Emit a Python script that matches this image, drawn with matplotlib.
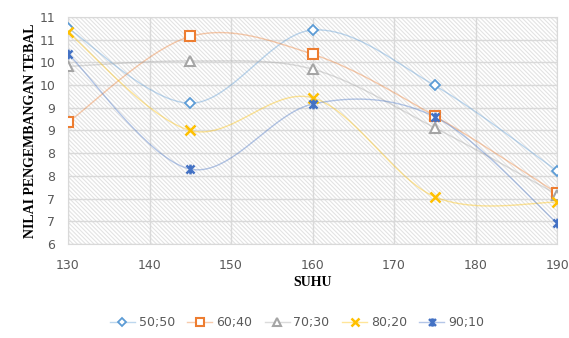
import matplotlib
matplotlib.use("Agg")
import matplotlib.pyplot as plt
import numpy as np
from matplotlib.patches import Rectangle
from matplotlib.path import Path
from matplotlib.ticker import FuncFormatter, MultipleLocator

# data
suhu = [130, 145, 160, 175, 190]
s50_50 = [10.75, 9.10, 10.71, 9.49, 7.61]
s60_40 = [8.68, 10.57, 10.18, 8.82, 7.12]
s70_30 = [9.91, 10.03, 9.85, 8.56, 7.09]
s80_20 = [10.66, 8.50, 9.22, 7.04, 6.92]
s90_10 = [10.19, 7.65, 9.08, 8.80, 6.46]
labels = ["50;50", "60;40", "70;30", "80;20", "90;10"]

# excel-ish asterisk marker
star = Path([(-1, -1), (1, 1), (-1, 1), (1, -1), (0, -1.2), (0, 1.2)],
            [Path.MOVETO, Path.LINETO, Path.MOVETO, Path.LINETO, Path.MOVETO, Path.LINETO])

styles = [
    dict(color="#5B9BD5", marker="D", ms=5, mfc="white", mew=1.3),
    dict(color="#ED7D31", marker="s", ms=7, mfc="white", mew=1.5),
    dict(color="#A5A5A5", marker="^", ms=7, mfc="white", mew=1.5),
    dict(color="#FFC000", marker="x", ms=7, mfc="none", mew=1.8),
    dict(color="#4472C4", marker=star, ms=7, mfc="none", mew=1.8),
]


def smooth(x, y, n=40):
    # bezier smoothing like excel's "smoothed line"
    x = np.asarray(x, float)
    y = np.asarray(y, float)
    px = np.concatenate([[x[0]], x, [x[-1]]])
    py = np.concatenate([[y[0]], y, [y[-1]]])
    t = np.linspace(0, 1, n)
    xs, ys = [], []
    for i in range(1, len(px) - 2):
        p0 = np.array([px[i], py[i]])
        p3 = np.array([px[i + 1], py[i + 1]])
        c1 = p0 + (np.array([px[i + 1], py[i + 1]]) - np.array([px[i - 1], py[i - 1]])) / 6
        c2 = p3 - (np.array([px[i + 2], py[i + 2]]) - np.array([px[i], py[i]])) / 6
        b = (np.outer((1 - t) ** 3, p0) + np.outer(3 * (1 - t) ** 2 * t, c1)
             + np.outer(3 * (1 - t) * t ** 2, c2) + np.outer(t ** 3, p3))
        xs.append(b[:, 0])
        ys.append(b[:, 1])
    return np.concatenate(xs), np.concatenate(ys)


plt.rcParams["hatch.linewidth"] = 0.8
fig = plt.figure(figsize=(5.69, 3.38), dpi=100)
ax = fig.add_axes([0.1195, 0.278, 0.8595, 0.672])

ax.add_patch(Rectangle((0, 0), 1, 1, transform=ax.transAxes, facecolor="white",
                       edgecolor="#E3E3E3", hatch="\\" * 8, lw=0, zorder=0))

handles = []
for ys, lab, st in zip([s50_50, s60_40, s70_30, s80_20, s90_10], labels, styles):
    sx, sy = smooth(suhu, ys)
    ax.plot(sx, sy, color=st["color"], alpha=0.4, lw=1.0, zorder=2)
    ax.plot(suhu, ys, ls="none", marker=st["marker"], ms=st["ms"], mfc=st["mfc"],
            mec=st["color"], mew=st["mew"], zorder=3)
    h, = ax.plot([], [], color=matplotlib.colors.to_rgba(st["color"], 0.4), lw=1.0,
                 marker=st["marker"], ms=st["ms"] - 1, mfc=st["mfc"],
                 mec=st["color"], mew=st["mew"])
    handles.append(h)

ax.set_xlim(130, 190)
ax.set_ylim(6, 11)
ax.xaxis.set_major_locator(MultipleLocator(10))
ax.yaxis.set_major_locator(MultipleLocator(0.5))
ax.yaxis.set_major_formatter(FuncFormatter(lambda v, p: str(int(np.floor(v + 0.5)))))
ax.grid(True, color="#D9D9D9", lw=1)
ax.set_axisbelow(True)
for s in ax.spines.values():
    s.set_color("#D9D9D9")
ax.tick_params(axis="x", length=0, colors="#595959", labelsize=9, pad=11)
ax.tick_params(axis="y", length=0, colors="#595959", labelsize=9, pad=9)

ax.set_xlabel("SUHU", fontfamily="Liberation Serif", fontweight="bold", fontsize=10, labelpad=3)
ax.set_ylabel("NILAI PENGEMBANGAN TEBAL", fontfamily="Liberation Serif", fontweight="bold",
              fontsize=10, labelpad=2)

fig.legend(handles, labels, loc="center", bbox_to_anchor=(0.522, 0.045), ncol=5,
           frameon=False, fontsize=9, labelcolor="#595959", handlelength=2.0,
           columnspacing=1.0, handletextpad=0.3)

fig.savefig("out.png", dpi=100)
